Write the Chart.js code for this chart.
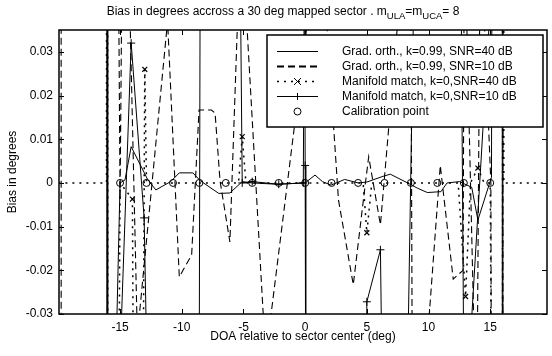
<!DOCTYPE html>
<html>
<head>
<meta charset="utf-8">
<script src="https://cdn.jsdelivr.net/npm/chart.js@4.4.0/dist/chart.umd.min.js"></script>
<style>
  html, body { margin: 0; padding: 0; background: #fff; overflow: hidden; }
</style>
</head>
<body>
<canvas id="chart" width="552" height="356"></canvas>
<script>
const FONT = '"Liberation Sans", Arial, Helvetica, sans-serif';

// axis ticks
const xTicks = [-15, -10, -5, 0, 5, 10, 15];
const yTicks = [-0.03, -0.02, -0.01, 0, 0.01, 0.02, 0.03];

const seriesLabels = [
  'Grad. orth., k=0.99, SNR=40 dB',
  'Grad. orth., k=0.99, SNR=10 dB',
  'Manifold match, k=0,SNR=40 dB',
  'Manifold match, k=0,SNR=10 dB',
  'Calibration point'
];

// Grad. orth., SNR=40 dB (values beyond the axis run off the plot)
const gradOrth40X = [-16.05, -16.0, -15.5, -15.0, -14.6, -14.1, -12.75, -12.1, -10.9, -10.2, -9.1, -8.5, -7.0, -6.1, -5.1, -4.3, -2.3, 0, 0.8, 1.4, 2.1, 3.2, 4.3, 5.0, 6.3, 6.9, 8.3, 9.1, 9.9, 11.0, 11.5, 12.5, 13.5, 14.0, 15.1, 15.95, 16.0];
const gradOrth40Y = [1, -1, -0.06, 0, 0.0007, 0.0083, 0.0007, -0.0016, 0.0003, 0.0023, 0.0023, 0.0005, -0.0024, -0.0023, 0.0003, 0, -0.0003, 0, 0.0018, 0.0003, -0.0005, 0.0008, 0, 0.0002, 0.0015, 0.002, 0, -0.0012, -0.0022, -0.002, 0, 0.0003, -0.001, -0.0085, 0.0013, 1, -1];

// Grad. orth., SNR=10 dB
const gradOrth10X = [-19.8, -19.75, -16.05, -16.0, -15.25, -15.0, -14.7, -13.6, -11.15, -10.2, -9.2, -8.6, -7.6, -7.3, -6.9, -6.1, -5.2, -3.2, 1.2, 2.7, 3.9, 4.85, 5.15, 6.1, 7.6, 8.55, 8.7, 9.8, 10.95, 12.0, 12.8, 12.9, 13.9, 14.2, 15.05, 15.1, 16.0, 16.05];
const gradOrth10Y = [1, -1, -1, 1, 0.1, -0.004, 0.1, -0.035, 0.037, -0.0215, -0.0165, 0.0167, 0.0167, 0.016, 0.0005, -0.0135, 0.06, -0.04, 0.06, -0.0039, -0.0233, -0.0008, 0.006, -0.0096, 0.04, 0.06, -0.06, -0.04, 0.004, -0.022, -0.02, 0.06, -0.06, 0.06, 0, -0.06, -1, 1];

// Manifold match, SNR=40 dB
const manifold40X = [-20, -16.1, -16.05, -15.95, -15.0, -14.0, -13.9, -13.15, -13.0, -12.86, -10.71, -8.57, -6.43, -5.4, -5.1, -4.8, -4.29, -2.14, 0, 2.14, 4.29, 4.7, 5.0, 5.4, 6.43, 8.57, 10.71, 12.4, 13.0, 13.4, 14.0, 14.5, 15.0, 15.95, 16.05, 16.1, 20];
const manifold40Y = [0, 0, 0.5, -0.5, 0, -0.0037, -0.06, -0.06, 0.026, 0, 0, 0, 0, 0, 0.0106, 0, 0, 0, 0, 0, 0, 0, -0.0114, 0, 0, 0, 0, 0, -0.026, 0, 0.0034, 0, 0, -0.5, 0.5, 0, 0];

// Manifold match, SNR=10 dB
const manifold10X = [-16.1, -16.05, -15.0, -14.1, -13.05, -12.7, -8.6, -8.5, -5.3, -5.1, -4.29, -2.14, -0.15, -0.05, 0, 0.05, 4.9, 5.0, 6.1, 6.3, 8.2, 8.9, 12.6, 12.9, 13.2, 15.2, 16.0, 16.05];
const manifold10Y = [1, -1, -0.04, 0.032, -0.008, -0.06, -0.06, 0.06, 0.06, 0, 0.0003, -0.0003, 0, 0.06, 0.004, -0.06, -0.06, -0.0272, -0.0153, -0.06, -0.06, 0.06, 0.06, -0.06, -0.045, 0.05, 1, -1];

// calibration points
const calibX = [-15, -12.86, -10.71, -8.57, -6.43, -4.29, -2.14, 0, 2.14, 4.29, 6.43, 8.57, 10.71, 12.86, 15];
const calibY = [0, 0, 0, 0, 0, 0, 0, 0, 0, 0, 0, 0, 0, 0, 0];

function toPoints(xs, ys) {
  return xs.map((x, i) => ({ x: x, y: ys[i] }));
}

function drawMarker(ctx, style, x, y, r) {
  ctx.beginPath();
  if (style === 'circle') {
    ctx.arc(x, y, r, 0, Math.PI * 2);
  } else if (style === 'cross') {
    ctx.moveTo(x - r, y); ctx.lineTo(x + r, y);
    ctx.moveTo(x, y - r); ctx.lineTo(x, y + r);
  } else if (style === 'crossRot') {
    ctx.moveTo(x - r, y - r); ctx.lineTo(x + r, y + r);
    ctx.moveTo(x - r, y + r); ctx.lineTo(x + r, y - r);
  }
  ctx.stroke();
}

// axes box with inward ticks, like the original figure
const framePlugin = {
  id: 'frame',
  afterDatasetsDraw(chart) {
    const { ctx, chartArea: a, scales } = chart;
    ctx.save();
    ctx.strokeStyle = '#000';
    ctx.lineWidth = 1;
    ctx.setLineDash([]);
    ctx.beginPath();
    xTicks.forEach(v => {
      const px = Math.round(scales.x.getPixelForValue(v)) + 0.5;
      ctx.moveTo(px, a.bottom); ctx.lineTo(px, a.bottom - 5);
      ctx.moveTo(px, a.top); ctx.lineTo(px, a.top + 5);
    });
    yTicks.forEach(v => {
      const py = Math.round(scales.y.getPixelForValue(v)) + 0.5;
      ctx.moveTo(a.left, py); ctx.lineTo(a.left + 5, py);
      ctx.moveTo(a.right, py); ctx.lineTo(a.right - 5, py);
    });
    ctx.stroke();
    ctx.lineWidth = 1.5;
    ctx.strokeRect(a.left, a.top, a.right - a.left, a.bottom - a.top);
    ctx.restore();
  }
};

// boxed legend inside the plot, upper right
const legendPlugin = {
  id: 'boxLegend',
  afterDraw(chart) {
    const { ctx } = chart;
    const box = { x: 267, y: 35, w: 276, h: 92 };
    ctx.save();
    ctx.fillStyle = '#fff';
    ctx.fillRect(box.x, box.y, box.w, box.h);
    ctx.strokeStyle = '#000';
    ctx.lineWidth = 1.5;
    ctx.setLineDash([]);
    ctx.strokeRect(box.x, box.y, box.w, box.h);
    ctx.font = '12px ' + FONT;
    ctx.textBaseline = 'middle';
    ctx.textAlign = 'left';
    chart.data.datasets.forEach((ds, i) => {
      const y = box.y + 16.5 + i * 15;
      if (ds.showLine) {
        ctx.lineWidth = ds.legendWidth || ds.borderWidth;
        ctx.setLineDash(ds.borderDash || []);
        ctx.beginPath();
        ctx.moveTo(277, y); ctx.lineTo(318, y);
        ctx.stroke();
      }
      ctx.setLineDash([]);
      ctx.lineWidth = 1;
      if (ds.legendMarker) drawMarker(ctx, ds.legendMarker, 297.5, y, 3.5);
      ctx.fillStyle = '#000';
      ctx.fillText(ds.label, 342, y + 0.5);
    });
    ctx.restore();
  }
};

// title with subscripts
const titlePlugin = {
  id: 'subTitle',
  afterDraw(chart) {
    const { ctx } = chart;
    const parts = [
      ['Bias in degrees accross a 30 deg mapped sector . m', false],
      ['ULA', true],
      ['=m', false],
      ['UCA', true],
      ['= 8', false]
    ];
    const big = '12px ' + FONT, small = '9.5px ' + FONT;
    ctx.save();
    ctx.fillStyle = '#000';
    ctx.textBaseline = 'alphabetic';
    ctx.textAlign = 'left';
    let total = 0;
    parts.forEach(p => { ctx.font = p[1] ? small : big; total += ctx.measureText(p[0]).width; });
    let x = 283 - total / 2;
    parts.forEach(p => {
      ctx.font = p[1] ? small : big;
      ctx.fillText(p[0], x, p[1] ? 19 : 15);
      x += ctx.measureText(p[0]).width;
    });
    ctx.restore();
  }
};

new Chart(document.getElementById('chart'), {
  type: 'scatter',
  data: {
    datasets: [
      {
        label: seriesLabels[0],
        data: toPoints(gradOrth40X, gradOrth40Y),
        showLine: true, borderColor: '#000', borderWidth: 1,
        pointRadius: 0, legendMarker: null
      },
      {
        label: seriesLabels[1],
        data: toPoints(gradOrth10X, gradOrth10Y),
        showLine: true, borderColor: '#000', borderWidth: 1.1, borderDash: [7, 4],
        legendWidth: 2,
        pointRadius: 0, legendMarker: null
      },
      {
        label: seriesLabels[2],
        data: toPoints(manifold40X, manifold40Y),
        showLine: true, borderColor: '#000', borderWidth: 1.5, borderDash: [2, 5],
        pointStyle: 'crossRot', borderCapStyle: 'butt',
        pointRadius: ctx => (ctx.raw && Math.abs(ctx.raw.y) > 0.001 && Math.abs(ctx.raw.y) < 0.04 ? 3.5 : 0),
        pointBorderWidth: 1.2, pointBorderColor: '#000', legendMarker: 'crossRot'
      },
      {
        label: seriesLabels[3],
        data: toPoints(manifold10X, manifold10Y),
        showLine: true, borderColor: '#000', borderWidth: 1,
        pointStyle: 'cross', pointRadius: 4, pointBorderWidth: 1,
        pointBorderColor: '#000', legendMarker: 'cross'
      },
      {
        label: seriesLabels[4],
        data: toPoints(calibX, calibY),
        showLine: false, pointStyle: 'circle', pointRadius: 3.5,
        pointBorderColor: '#000', pointBackgroundColor: 'rgba(0,0,0,0)', pointBorderWidth: 1,
        legendMarker: 'circle'
      }
    ]
  },
  options: {
    responsive: false,
    animation: false,
    devicePixelRatio: 1,
    layout: { padding: { top: 30, right: 2, left: 0, bottom: 0 } },
    plugins: { legend: { display: false }, title: { display: false }, tooltip: { enabled: false } },
    scales: {
      x: {
        type: 'linear', min: -19.95, max: 19.6,
        afterBuildTicks: s => { s.ticks = xTicks.map(v => ({ value: v })); },
        afterFit: s => { s.height = 42; },
        grid: { display: false, drawTicks: false },
        border: { display: false },
        ticks: { color: '#000', padding: 6, font: { family: FONT, size: 12 }, maxRotation: 0 },
        title: { display: true, text: 'DOA relative to sector center (deg)', color: '#000',
                 font: { family: FONT, size: 12 }, padding: { bottom: 12, top: 0 } }
      },
      y: {
        type: 'linear', min: -0.03, max: 0.035,
        afterBuildTicks: s => { s.ticks = yTicks.map(v => ({ value: v })); },
        afterFit: s => { s.width = 59; },
        grid: { display: false, drawTicks: false },
        border: { display: false },
        ticks: { color: '#000', padding: 6, font: { family: FONT, size: 12 },
                 callback: v => (Math.abs(v) < 1e-9 ? '0' : String(Math.round(v * 100) / 100)) },
        title: { display: true, text: 'Bias in degrees', color: '#000',
                 font: { family: FONT, size: 12 }, padding: { top: 5, bottom: 0 } }
      }
    }
  },
  plugins: [framePlugin, legendPlugin, titlePlugin]
});
</script>
</body>
</html>
